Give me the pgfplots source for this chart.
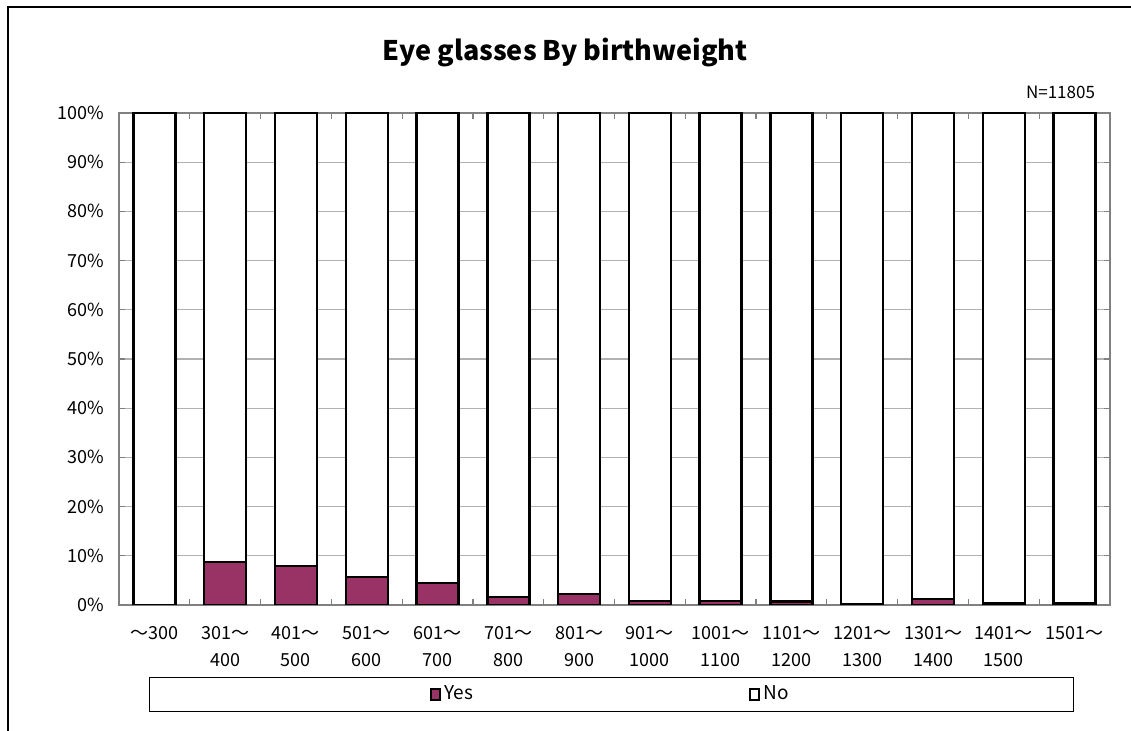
\documentclass[border=0pt]{standalone}
\usepackage{fontspec}
\setmainfont{Noto Sans CJK JP}
\usepackage{pgfplots}
\pgfplotsset{compat=1.18}
\definecolor{yescol}{HTML}{993366}
\begin{document}
\begin{tikzpicture}
\path[use as bounding box] (-59.5pt,-63pt) rectangle (506pt,302.5pt);
\begin{axis}[
  at={(0pt,0pt)}, anchor=south west,
  width=495.5pt, height=246pt, scale only axis,
  ybar stacked, bar width=21pt,
  xmin=-0.5, xmax=13.5, ymin=0, ymax=100,
  xtick={0,1,...,13},
  xticklabels={～300,301～\\400,401～\\500,501～\\600,601～\\700,701～\\800,801～\\900,901～\\1000,1001～\\1100,1101～\\1200,1201～\\1300,1301～\\1400,1401～\\1500,1501～},
  xticklabel style={align=center, font=\fontsize{9}{13.5}\selectfont, anchor=north, yshift=-7pt},
  major x tick style={draw=none},
  minor xtick={0.5,1.5,...,12.5},
  minor tick length=3pt,
  ytick={0,10,...,100},
  yticklabels={0\%,10\%,20\%,30\%,40\%,50\%,60\%,70\%,80\%,90\%,100\%},
  yticklabel style={font=\fontsize{9}{11}\selectfont, xshift=-4pt},
  major tick length=3pt,
  tick align=inside,
  ymajorgrids, grid style={gray!60, line width=0.6pt},
  axis line style={gray, line width=0.8pt},
  tick style={gray, line width=0.6pt},
  legend columns=2,
  legend cell align=left,
  legend image code/.code={\draw[#1, draw=black, line width=0.8pt] (0pt,-2.7pt) rectangle (4.5pt,2.7pt);},
  legend style={at={(246.25pt,-44.75pt)}, anchor=center, draw=black, line width=0.5pt,
    inner xsep=140pt, inner ysep=2.5pt, font=\fontsize{9.5}{11}\selectfont,
    /tikz/every even column/.append style={column sep=136pt}},
]
\addplot[fill=yescol, draw=black, line width=1.2pt] coordinates {
(0,0) (1,8.7) (2,7.9) (3,5.7) (4,4.5) (5,1.6) (6,2.2) (7,0.8) (8,0.8) (9,0.7) (10,0.2) (11,1.2) (12,0.4) (13,0.4)};
\addlegendentry{Yes}
\addplot[fill=white, draw=black, line width=1.2pt] coordinates {
(0,100) (1,91.3) (2,92.1) (3,94.3) (4,95.5) (5,98.4) (6,97.8) (7,99.2) (8,99.2) (9,99.3) (10,99.8) (11,98.8) (12,99.6) (13,99.6)};
\addlegendentry{No}
\end{axis}
\node[font=\bfseries\fontsize{13.5}{16}\selectfont] at (223pt,276pt) {Eye glasses By birthweight};
\node[anchor=east, font=\fontsize{8.5}{10}\selectfont] at (491.5pt,256.5pt) {N=11805};
\draw[line width=1.3pt] (-55.5pt,-63pt) -- (-55.5pt,299pt) -- (506pt,299pt);
\end{tikzpicture}
\end{document}
